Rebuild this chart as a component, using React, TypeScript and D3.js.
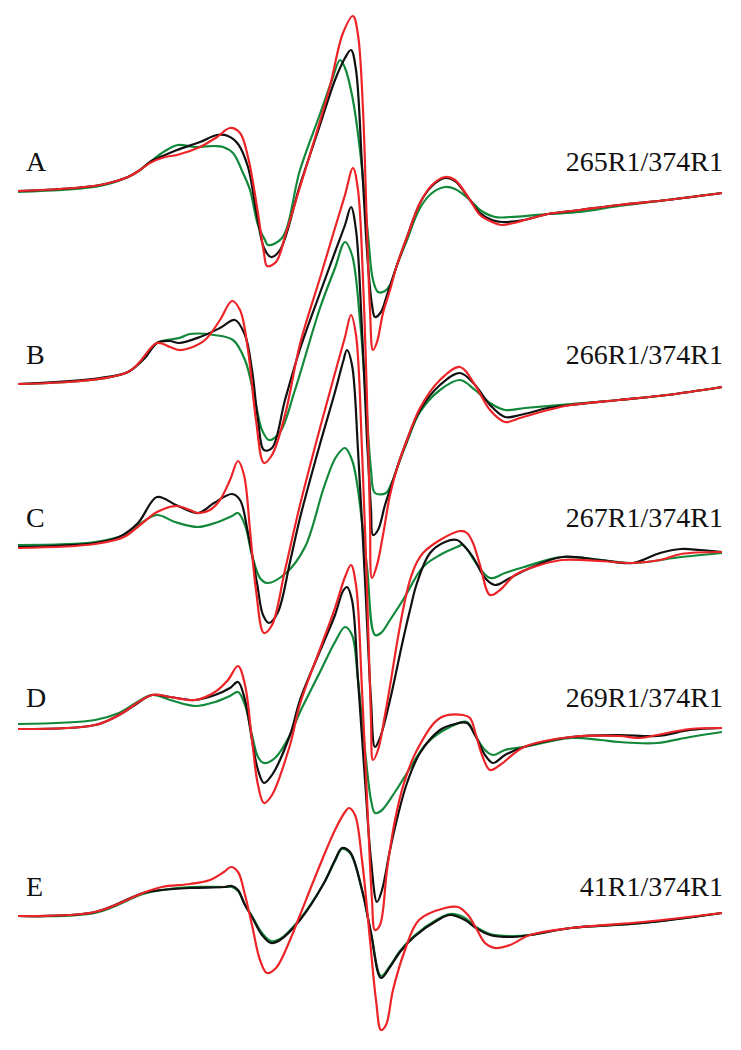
import React from 'react';
import * as d3 from 'd3';

// stacked EPR spectra, field in G (relative), intensity in a.u.
const panels = ['A', 'B', 'C', 'D', 'E'];
const samples = ['265R1/374R1', '266R1/374R1', '267R1/374R1', '269R1/374R1', '41R1/374R1'];
const stackOffsets = [0, -193, -356, -536, -725];

type Pt = [number, number];

const A_black: Pt[] = [[0, 0], [10.5, 2], [20.5, 6], [27.5, 14], [30.5, 21], [33, 29], [36.75, 36], [39.75, 41], [45.5, 49], [49.75, 56], [52.5, 55], [55, 47], [57.5, 24], [59.5, -19], [61.5, -57], [63.25, -66], [65.5, -59], [70.5, 6], [75.5, 66], [79.25, 111], [81.75, 133], [83.25, 141], [84.5, 121], [86, 26], [87.5, -74], [88.5, -114], [89.25, -126], [90.75, -121], [92.25, -104], [94.75, -74], [97.25, -46], [100.5, -12], [103.5, 5], [106.75, 13], [109.25, 10], [113, -9], [115.5, -22], [118.5, -29], [121, -31], [126.5, -29], [132.5, -23], [140.5, -19], [150.25, -14], [162.25, -9], [176, -2]];
const A_green: Pt[] = [[0, -1], [20.5, 5], [27.5, 14], [30.5, 21], [33, 29], [36.75, 40], [40, 46], [44.25, 44], [49.25, 45], [51.25, 44], [53.75, 38], [56.25, 18], [58, 1], [60, -34], [61.75, -49], [62.5, -54], [66, -47], [70.5, 21], [75.5, 77], [78.5, 111], [80.5, 131], [81.75, 123], [83.5, 96], [85.5, 41], [87.5, -44], [88.75, -89], [90, -101], [91.75, -100], [93, -94], [94.75, -74], [97.25, -49], [100.5, -17], [103.5, -2], [106.75, 4], [109.25, 2], [113, -9], [115.5, -19], [119.25, -26], [123, -26], [132.5, -23], [140.5, -21], [150.25, -15], [162.25, -9], [176, -2]];
const A_red: Pt[] = [[0, 0], [10.5, 2], [20.5, 6], [27.5, 14], [30.5, 21], [33, 28], [36.75, 34], [39.75, 36], [45.5, 44], [49.75, 54], [53, 63], [55.5, 58], [57.5, 34], [59.75, -16], [61.5, -62], [62.25, -75], [64.5, -71], [67, -42], [70.5, 4], [77.75, 101], [81.25, 158], [83.75, 175], [85, 156], [86.25, 81], [87.25, -39], [88, -119], [88.75, -159], [89.75, -151], [91.25, -122], [93, -99], [94.75, -74], [97.25, -46], [100.5, -12], [103.5, 6], [106.75, 14], [109.25, 11], [113, -9], [115.5, -24], [118.5, -31], [121, -34], [124, -32], [132.5, -23], [140.5, -19], [150.25, -14], [162.25, -9], [176, -2]];

const B_black: Pt[] = [[0, 0], [20.5, 6], [27.5, 12], [31.75, 26], [34.75, 41], [38, 43], [40.25, 41], [45.5, 47], [50.5, 56], [54.25, 64], [56.75, 49], [58.5, 14], [60, -36], [61.5, -66], [63.5, -64], [66.75, -16], [70.5, 35], [75.5, 91], [79.25, 132], [81.75, 159], [83.25, 177], [84.5, 154], [86, 54], [87.25, -56], [88.25, -126], [88.75, -151], [90, -146], [91.75, -121], [93, -106], [95, -81], [97.25, -56], [100.5, -26], [105.5, -1], [110.5, 11], [114.25, -1], [118, -21], [121.75, -33], [125.5, -31], [132.5, -24], [138.25, -21], [150.25, -16], [162.25, -11], [176, -3]];
const B_green: Pt[] = [[0, 0], [27.5, 12], [34.75, 41], [40.25, 46], [43, 50], [49, 49], [53.75, 44], [56.75, 24], [59.25, -16], [61, -46], [62.75, -56], [65.5, -48], [69.25, -6], [75.5, 76], [79.25, 116], [81.75, 142], [83.5, 129], [85.5, 64], [87, -16], [88.25, -86], [89.25, -109], [92, -109], [93.5, -98], [95.5, -76], [97.25, -58], [100.5, -28], [105.5, -6], [110.5, 4], [114.25, -6], [118, -19], [121.75, -26], [126.75, -24], [138.25, -20], [150.25, -16], [162.25, -11], [176, -3]];
const B_red: Pt[] = [[0, 0], [27.5, 12], [34.75, 41], [38, 37], [40.25, 34], [43, 36], [46.75, 44], [50.5, 64], [53.5, 83], [55.5, 74], [57.5, 34], [59.5, -36], [61.5, -79], [63.5, -71], [66.75, -31], [70.5, 40], [75.5, 106], [79.25, 156], [81.75, 189], [83.75, 216], [85, 194], [86.25, 104], [87.25, -16], [88, -136], [88.5, -194], [89.75, -181], [91.25, -151], [93, -111], [95, -81], [97.25, -56], [100.5, -24], [105.5, 4], [110.5, 17], [114.25, -1], [118, -26], [121.75, -38], [125.5, -34], [132.5, -26], [138.25, -21], [150.25, -16], [162.25, -11], [176, -3]];

const C_black: Pt[] = [[0, 0], [19.25, 4], [25.25, 10], [30, 24], [34.75, 50], [39.5, 42], [45, 34], [49, 44], [53.5, 53], [55.5, 47], [57.5, 14], [59.75, -36], [61.25, -68], [62.75, -76], [65, -65], [68, -15], [70.5, 29], [75.5, 103], [79.25, 155], [81.25, 185], [82.25, 197], [83.5, 182], [85, 97], [86.75, -33], [88.25, -153], [89.25, -200], [90.5, -191], [93, -153], [94.75, -121], [96.25, -93], [98, -63], [99.75, -36], [103, -6], [106.75, 5], [109.75, 7], [111.75, 0], [113.75, -10], [116.75, -31], [119.25, -38], [123, -31], [128, -21], [136, -10], [145.5, -13], [153.75, -16], [160.5, -6], [165.75, -2], [170.5, -3], [176, -5]];
const C_green: Pt[] = [[0, 2], [19.25, 5], [26.5, 12], [30.5, 23], [34.75, 32], [39.25, 25], [45, 20], [49.25, 24], [53.5, 31], [55, 34], [56.75, 22], [58.5, -8], [60.5, -31], [62.25, -36], [67, -26], [71.75, 0], [76.5, 60], [79.5, 90], [81.75, 99], [83.5, 87], [84.75, 64], [87.25, -20], [89.25, -88], [90.75, -86], [93, -73], [96.25, -53], [101.25, -20], [105.5, -8], [109.75, 0], [111.25, 2], [114.5, -16], [118, -31], [121.75, -26], [126.5, -20], [136, -10], [153.75, -16], [165.75, -10], [176, -6]];
const C_red: Pt[] = [[0, -1], [19.25, 3], [26.5, 10], [30.5, 22], [34.75, 35], [39.5, 41], [43, 37], [45, 34], [48, 37], [50.5, 47], [53, 67], [55, 86], [56.5, 72], [58, 17], [59.5, -43], [61.5, -86], [63.5, -78], [66.75, -23], [70.5, 42], [75.5, 119], [79.25, 174], [81.75, 210], [83.25, 232], [84.5, 212], [86, 97], [87.25, -43], [88.25, -173], [88.75, -213], [90, -203], [91.75, -168], [93.25, -133], [94.75, -96], [96.5, -58], [98, -33], [99.75, -15], [101.25, -6], [105.5, 7], [110.5, 16], [112.25, 14], [113.75, 4], [115.5, -18], [118, -48], [120.5, -43], [124.25, -28], [130.5, -18], [136, -13], [145.5, -14], [153.75, -16], [160.5, -13], [165.75, -7], [176, -5]];

const D_black: Pt[] = [[0, -2], [19.25, 2], [25.25, 12], [29.25, 22], [33.5, 32], [38, 30], [44.25, 27], [49.25, 32], [53, 39], [55, 45], [56.75, 27], [58.5, -13], [60, -43], [61.5, -56], [63.5, -48], [68, -8], [70.5, 27], [75.5, 76], [79.25, 112], [81.25, 136], [82.25, 140], [83.5, 127], [85, 47], [86.75, -53], [88.25, -133], [89.75, -175], [91, -163], [93, -123], [95, -88], [97.25, -56], [100.5, -26], [105.5, -3], [109.25, 3], [112.25, 4], [114.25, -8], [116.75, -28], [118.75, -36], [121.75, -28], [126.5, -20], [138.25, -10], [150.25, -8], [159.75, -9], [168, -3], [176, -1]];
const D_green: Pt[] = [[0, 3], [19.25, 7], [25.25, 14], [33.5, 32], [38, 27], [44.25, 21], [49.25, 25], [53, 31], [55, 35], [56.75, 22], [58.5, -8], [60, -30], [61.5, -36], [64.25, -31], [68, -8], [70.5, 15], [75.5, 55], [79.25, 85], [81.75, 100], [83.5, 92], [85, 47], [86.75, -23], [88.25, -73], [89.25, -86], [90.75, -84], [94.25, -65], [97.25, -46], [102.25, -16], [108, 0], [112.25, 5], [114.25, -8], [116.75, -23], [118.75, -28], [121.75, -23], [126.5, -20], [138.25, -11], [145.5, -13], [150.25, -15], [159.75, -16], [168, -10], [176, -5]];
const D_red: Pt[] = [[0, -2], [19.25, 2], [25.25, 12], [33.5, 32], [38, 30], [44.25, 27], [49.25, 35], [52.5, 47], [55, 61], [56.75, 42], [58.5, -13], [60, -58], [61.5, -76], [63.5, -68], [68, -18], [70.5, 23], [75.5, 78], [79.25, 119], [81.75, 150], [83.25, 162], [84.5, 142], [86, 37], [87.5, -93], [88.5, -173], [89.25, -203], [90.5, -198], [92.25, -143], [94.25, -93], [96.5, -56], [99.75, -23], [105.5, 9], [111.25, 12], [113, 9], [114.5, -8], [116, -28], [118, -43], [120.5, -38], [126.5, -20], [138.25, -10], [150.25, -9], [155.5, -11], [159.75, -8], [168, -2], [176, -1]];

const E_black: Pt[] = [[0, 0], [19.25, 4], [31.25, 23], [36, 26], [43, 28], [51.5, 29], [53.5, 30], [55, 26], [56.75, 11], [58.5, -1], [61, -19], [63.25, -27], [65.5, -24], [70.5, -4], [76.5, 33], [79.25, 56], [81, 68], [83, 64], [86, 26], [88.25, -17], [90.75, -62], [93, -51], [95.5, -36], [99, -21], [105, -4], [108, 1], [111.75, -4], [114.5, -12], [118, -19], [123, -21], [128, -19], [138.25, -12], [156.25, -7], [176, 3]];
const E_green: Pt[] = [[0, 0], [19.25, 3], [31.25, 22], [36, 26], [43, 29], [51.5, 29], [53.5, 29], [55, 25], [56.75, 11], [58.5, 0], [61, -17], [63.25, -25], [65.5, -23], [70.5, -3], [76.5, 33], [79.25, 55], [81, 67], [83, 63], [86, 26], [88.25, -17], [90.75, -60], [93, -50], [95.5, -35], [99, -20], [105, -3], [108, 2], [111.75, -2], [114.5, -11], [118, -18], [123, -20], [128, -19], [138.25, -12], [156.25, -7], [176, 3]];
const E_red: Pt[] = [[0, 0], [19.25, 4], [31.25, 23], [36, 29], [43, 32], [48, 36], [51.5, 44], [53.25, 49], [55, 44], [56.75, 21], [58.5, -9], [60.5, -44], [62.25, -57], [64.5, -52], [68, -24], [70.5, 1], [75.5, 51], [79.25, 86], [81.75, 104], [82.75, 108], [84.25, 101], [86, 56], [88, -24], [89.5, -84], [90.75, -114], [92, -109], [93.75, -74], [96.75, -34], [100.25, -4], [106.75, 8], [110, 9], [112.5, 1], [114.5, -12], [116.75, -27], [119.25, -32], [123, -29], [128, -19], [138.25, -12], [156.25, -6], [176, 3]];

const spectra = [
  { green: A_green, black: A_black, red: A_red },
  { green: B_green, black: B_black, red: B_red },
  { green: C_green, black: C_black, red: C_red },
  { green: D_green, black: D_black, red: D_red },
  { green: E_green, black: E_black, red: E_red },
];

const COLORS = { green: '#12893a', black: '#111111', red: '#ec2428' };
const WIDTH = 741;
const HEIGHT = 1050;

export default function App() {
  const x = d3.scaleLinear().domain([0, 176]).range([18, 722]);
  const y = d3.scaleLinear().domain([191, -859]).range([0, HEIGHT]);

  return (
    <div style={{ position: 'absolute', left: 0, top: 0, background: '#fff' }}>
      <svg width={WIDTH} height={HEIGHT} style={{ display: 'block' }}>
        <rect width={WIDTH} height={HEIGHT} fill="#fff" />
        {spectra.map((s, i) => {
          const off = stackOffsets[i];
          const line = d3
            .line<Pt>()
            .x(d => x(d[0]))
            .y(d => y(off + d[1]))
            .curve(d3.curveCatmullRom.alpha(0.5));
          const base = y(off);
          return (
            <g key={panels[i]}>
              <text x={26} y={base - 20} fontFamily="'Liberation Serif', 'Times New Roman', serif" fontSize={28} fill="#111">
                {panels[i]}
              </text>
              <text x={723} y={base - 20} textAnchor="end" fontFamily="'Liberation Serif', 'Times New Roman', serif" fontSize={28} fill="#111">
                {samples[i]}
              </text>
              {(['green', 'black', 'red'] as const).map(k => (
                <path key={k} d={line(s[k]) || ''} fill="none" stroke={COLORS[k]} strokeWidth={2.2} strokeLinejoin="round" />
              ))}
            </g>
          );
        })}
      </svg>
    </div>
  );
}
